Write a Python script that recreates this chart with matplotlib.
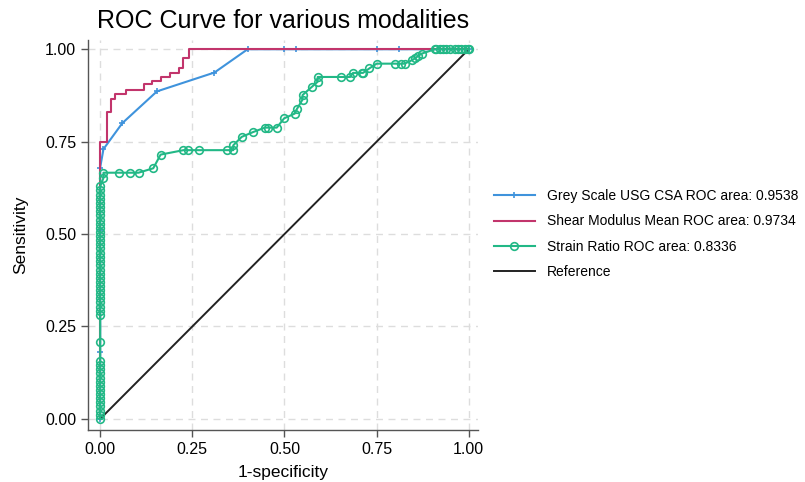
import matplotlib
matplotlib.use("Agg")
import matplotlib.pyplot as plt

plt.rcParams['font.family'] = ['Liberation Sans', 'DejaVu Sans']

# ---- data ----
grey_fpr = [0.0, 0.0, 0.0, 0.0, 0.009, 0.06, 0.154, 0.31, 0.40, 0.50, 0.53, 0.75, 0.81, 1.0]
grey_tpr = [0.0, 0.18, 0.51, 0.68, 0.73, 0.80, 0.886, 0.937, 1.0, 1.0, 1.0, 1.0, 1.0, 1.0]

shear_fpr = [0.0, 0.0, 0.018, 0.018, 0.029, 0.029, 0.041, 0.041, 0.07, 0.07, 0.12, 0.12,
             0.14, 0.14, 0.165, 0.165, 0.19, 0.19, 0.215, 0.215, 0.226, 0.226, 0.24, 0.24, 1.0]
shear_tpr = [0.0, 0.75, 0.75, 0.83, 0.83, 0.865, 0.865, 0.88, 0.88, 0.89, 0.89, 0.905,
             0.905, 0.915, 0.915, 0.925, 0.925, 0.935, 0.935, 0.95, 0.95, 0.975, 0.975, 1.0, 1.0]

strain_fpr = [0.0] * 48 + [
    0.009, 0.009, 0.05, 0.081, 0.104, 0.144, 0.164, 0.226, 0.237, 0.268, 0.343, 0.361, 0.361,
    0.384, 0.415, 0.447, 0.456, 0.479, 0.499, 0.528, 0.533, 0.549, 0.549, 0.574, 0.59, 0.59,
    0.654, 0.678, 0.686, 0.709, 0.713, 0.73, 0.75, 0.80, 0.817, 0.826, 0.845, 0.854, 0.863,
    0.872, 0.908, 0.912, 0.921, 0.93, 0.939, 0.948, 0.962, 0.971, 0.98, 0.989, 0.998, 1.0]
strain_tpr = [
    0.0, 0.011, 0.022, 0.034, 0.045, 0.056, 0.067, 0.079, 0.09, 0.101, 0.112, 0.124, 0.135,
    0.146, 0.157, 0.209, 0.281, 0.292, 0.303, 0.315, 0.326, 0.337, 0.348, 0.36, 0.371, 0.382,
    0.393, 0.404, 0.416, 0.427, 0.438, 0.449, 0.461, 0.472, 0.483, 0.494, 0.506, 0.517, 0.528,
    0.539, 0.551, 0.562, 0.573, 0.584, 0.596, 0.607, 0.618, 0.629,
    0.652, 0.666, 0.666, 0.666, 0.666, 0.678, 0.715, 0.727, 0.727, 0.727, 0.727, 0.727, 0.74,
    0.763, 0.776, 0.788, 0.788, 0.788, 0.813, 0.826, 0.837, 0.864, 0.876, 0.898, 0.912, 0.925,
    0.925, 0.925, 0.936, 0.936, 0.936, 0.948, 0.961, 0.961, 0.961, 0.961, 0.97, 0.975, 0.982,
    0.988, 1.0, 1.0, 1.0, 1.0, 1.0, 1.0, 1.0, 1.0, 1.0, 1.0, 1.0, 1.0]

ref_x = [0.0, 1.0]
ref_y = [0.0, 1.0]

labels = ["Grey Scale USG CSA ROC area: 0.9538",
          "Shear Modulus Mean ROC area: 0.9734",
          "Strain Ratio ROC area: 0.8336",
          "Reference"]
ticks = [0.0, 0.25, 0.5, 0.75, 1.0]
tick_labels = ["0.00", "0.25", "0.50", "0.75", "1.00"]

c_blue = "#3f93dc"
c_red = "#c2356c"
c_green = "#22b886"

fig = plt.figure(figsize=(8.05, 4.82), dpi=100)
ax = fig.add_axes([88/805, 1-430/482, 390/805, 390/482])

ax.plot(grey_fpr, grey_tpr, color=c_blue, lw=1.5, marker='+', ms=5, mew=1.2,
        label=labels[0], zorder=3)
ax.plot(shear_fpr, shear_tpr, color=c_red, lw=1.5, label=labels[1], zorder=3)
ax.plot(strain_fpr, strain_tpr, color=c_green, lw=1.5, marker='o', ms=5.5,
        mfc='none', mec=c_green, mew=1.2, label=labels[2], zorder=4)
ax.plot(ref_x, ref_y, color='#222222', lw=1.4, label=labels[3], zorder=2)

ax.set_xlim(-0.033, 1.025)
ax.set_ylim(-0.03, 1.025)
ax.set_xticks(ticks)
ax.set_xticklabels(tick_labels)
ax.set_yticks(ticks)
ax.set_yticklabels(tick_labels)
ax.tick_params(labelsize=11.5, length=5, color='#555555', width=1)
ax.grid(True, ls=(0, (5, 4)), color='#dddddd', lw=1)
ax.set_axisbelow(True)
for s in ['top', 'right']:
    ax.spines[s].set_visible(False)
for s in ['left', 'bottom']:
    ax.spines[s].set_color('#555555')
    ax.spines[s].set_linewidth(1)

ax.set_xlabel("1-specificity", fontsize=12.5, labelpad=6)
ax.set_ylabel("Sensitivity", fontsize=12.5, labelpad=12)
ax.set_title("ROC Curve for various modalities", fontsize=18, pad=9)

fig.legend(loc='center left', bbox_to_anchor=(481/805, 1-234/482), frameon=False,
           fontsize=10, handlelength=3.0, handletextpad=0.85, labelspacing=0.8)

fig.savefig("out.png", dpi=100)
